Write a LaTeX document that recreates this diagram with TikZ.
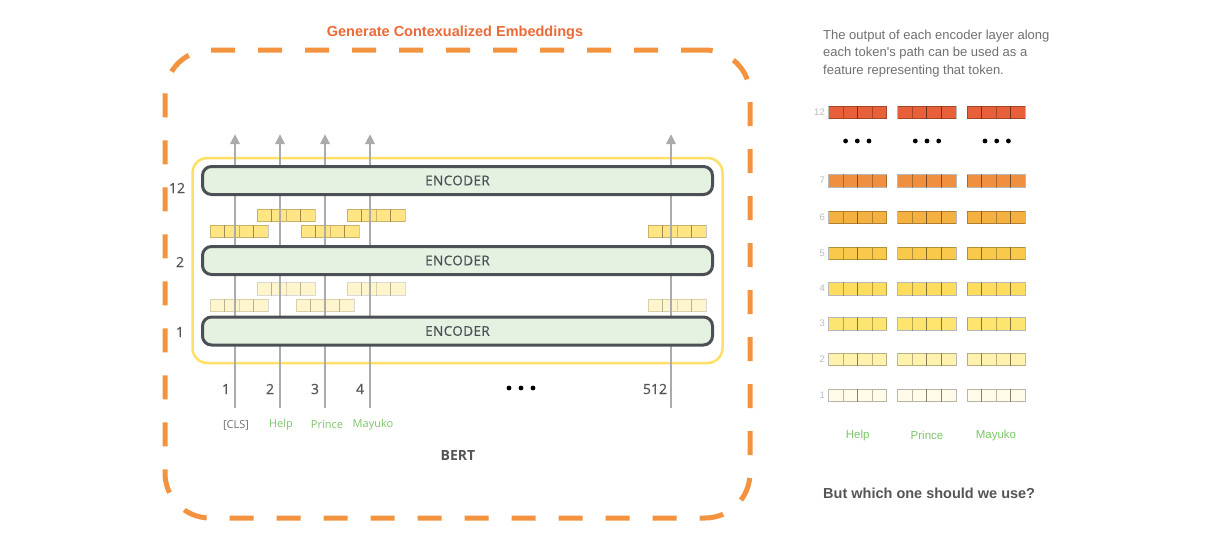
\documentclass[tikz,border=0pt]{standalone}
\usepackage{fontspec}
\setmainfont{Open Sans}
\newfontfamily\medfont[FakeBold=0.6]{Open Sans}
\newfontfamily\helv{Liberation Sans}
\usetikzlibrary{arrows.meta}
\definecolor{orangebox}{HTML}{F3923F}
\definecolor{titleorange}{HTML}{EC6A38}
\definecolor{yellowbox}{HTML}{FFDF66}
\definecolor{encfill}{HTML}{E5F1E1}
\definecolor{encdraw}{HTML}{4B5056}
\definecolor{arrowgray}{HTML}{ABABAB}
\definecolor{numgray}{HTML}{555555}
\definecolor{wordgreen}{HTML}{7CC66A}
\definecolor{textgray}{HTML}{707070}
\definecolor{lightgray}{HTML}{BBBBBB}
\definecolor{vecAfill}{HTML}{FFE584}
\definecolor{vecBfill}{HTML}{FFF5CC}
\definecolor{Lxii}{HTML}{E8603A}
\definecolor{Lvii}{HTML}{EF8F3F}
\definecolor{Lvi}{HTML}{F4B142}
\definecolor{Lv}{HTML}{F8C94B}
\definecolor{Liv}{HTML}{FEDD5E}
\definecolor{Liii}{HTML}{FEE56F}
\definecolor{Lii}{HTML}{FFF1AE}
\definecolor{Li}{HTML}{FFFBE8}
\tikzset{
  pics/emb/.style={code={\foreach \k in {0,1,2,3}{\filldraw[#1] (\k*14.6,0) rectangle ++(14.6,12.5);}}},
  vecA/.style={fill=vecAfill, draw=black, draw opacity=0.22, line width=0.9pt},
  vecB/.style={fill=vecBfill, draw=black, draw opacity=0.15, line width=0.9pt},
  cellrow/.style={fill=#1, draw=black, draw opacity=0.28, line width=0.9pt},
  outerbox/.style={draw=orangebox, line width=5pt, dash pattern=on 24pt off 23pt, rounded corners=45pt},
  innerbox/.style={draw=yellowbox, line width=2.5pt, rounded corners=15pt},
  encbox/.style={draw=encdraw, fill=encfill, line width=3pt, rounded corners=9pt,
    minimum width=510pt, minimum height=28pt, text=encdraw,
    font=\medfont\fontsize{13.5}{15}\selectfont\addfontfeatures{LetterSpace=3}},
  tokarrow/.style={draw=arrowgray, line width=2.5pt, -{Triangle[width=9pt,length=10pt]}},
  numlabel/.style={text=numgray, font=\medfont\fontsize{14}{16}\selectfont, inner sep=0pt},
  wordlabel/.style={text=wordgreen, font=\fontsize{11}{13}\selectfont, inner sep=0pt},
  rtext/.style={text=textgray, font=\helv\fontsize{13}{16}\selectfont, anchor=base west, inner sep=0pt},
  rowlabel/.style={text=lightgray, font=\helv\fontsize{9.5}{11}\selectfont, anchor=east, inner sep=0pt},
  rword/.style={text=wordgreen, font=\helv\fontsize{11.5}{13}\selectfont, inner sep=0pt},
  dotstyle/.style={fill=black},
}
\begin{document}
\begin{tikzpicture}[x=1pt,y=-1pt]
\useasboundingbox (0,0) rectangle (1226,544);
\fill[white] (0,0) rectangle (1226,544);

% title and boxes
\node[text=titleorange, font=\helv\bfseries\fontsize{14.5}{16}\selectfont] (title) at (455,33) {Generate Contexualized Embeddings};
\node[outerbox, minimum width=585pt, minimum height=468pt] (outer) at (457.5,284) {};
\node[innerbox, minimum width=530pt, minimum height=205pt] (inner) at (457.5,260.5) {};

% embedding vectors between encoder 2 and 12
\pic at (257,209) {emb=vecA};
\pic at (347,209) {emb=vecA};
\pic at (210,225) {emb=vecA};
\pic at (301,225) {emb=vecA};
\pic at (648,225) {emb=vecA};
% between encoder 1 and 2
\pic at (257,282.5) {emb=vecB};
\pic at (347,282.5) {emb=vecB};
\pic at (210,299) {emb=vecB};
\pic at (296,299) {emb=vecB};
\pic at (648,299) {emb=vecB};

% token paths
\foreach \n/\x in {1/235,2/280,3/325,4/370,5/671}{
  \coordinate (b\n) at (\x,408);
  \coordinate (t\n) at (\x,134);
  \draw[tokarrow] (b\n) -- (t\n);
}

% encoders
\node[encbox] (enc12) at (457.5,180.5) {ENCODER};
\node[encbox] (enc2) at (457.5,260.5) {ENCODER};
\node[encbox] (enc1) at (457.5,331) {ENCODER};

% layer numbers
\node[numlabel] (l12) at (177,188) {12};
\node[numlabel] (l2) at (180,262) {2};
\node[numlabel] (l1) at (180,332) {1};

% token numbers
\node[numlabel] (n1) at (226,389) {1};
\node[numlabel] (n2) at (270,389) {2};
\node[numlabel] (n3) at (315,389) {3};
\node[numlabel] (n4) at (360,389) {4};
\node[numlabel] (n512) at (655,389) {512};
\foreach \x in {509,521,533}{\fill[dotstyle] (\x,388) circle (2.4pt);}

% token words
\node[wordlabel, text=textgray] (wcls) at (236,425) {[CLS]};
\node[wordlabel] (whelp) at (281,425) {Help};
\node[wordlabel] (wprince) at (327,425) {Prince};
\node[wordlabel] (wmayuko) at (373,425) {Mayuko};
\node[text=numgray, font=\bfseries\fontsize{14}{16}\selectfont] (bert) at (458,455) {BERT};

% right panel text
\node[rtext] (rt1) at (823,39.3) {The output of each encoder layer along};
\node[rtext] (rt2) at (823,56.8) {each token's path can be used as a};
\node[rtext] (rt3) at (823,74.3) {feature representing that token.};

% right panel rows
\foreach \lab/\top/\col in {12/106/Lxii,7/174.5/Lvii,6/211/Lvi,5/247/Lv,4/282.5/Liv,3/317.5/Liii,2/353/Lii,1/389/Li}{
  \node[rowlabel] (rl\lab) at (825,\top+6.2) {\lab};
  \foreach \cx in {828.5,897.7,967}{
    \foreach \k in {0,1,2,3}{
      \filldraw[cellrow=\col] (\cx+\k*14.6,\top) rectangle ++(14.6,12.5);
    }
  }
}
\foreach \cx in {857.3,927,996.7}{
  \foreach \d in {-11.7,0,11.7}{\fill[dotstyle] (\cx+\d,141) circle (2.4pt);}
}
\node[rword] (rhelp) at (857.7,435.3) {Help};
\node[rword] (rprince) at (927,435.3) {Prince};
\node[rword] (rmayuko) at (996,435.3) {Mayuko};
\node[text=numgray, font=\helv\bfseries\fontsize{14.5}{16}\selectfont, anchor=base west, inner sep=0pt] (question) at (823,498) {But which one should we use?};
\end{tikzpicture}
\end{document}
